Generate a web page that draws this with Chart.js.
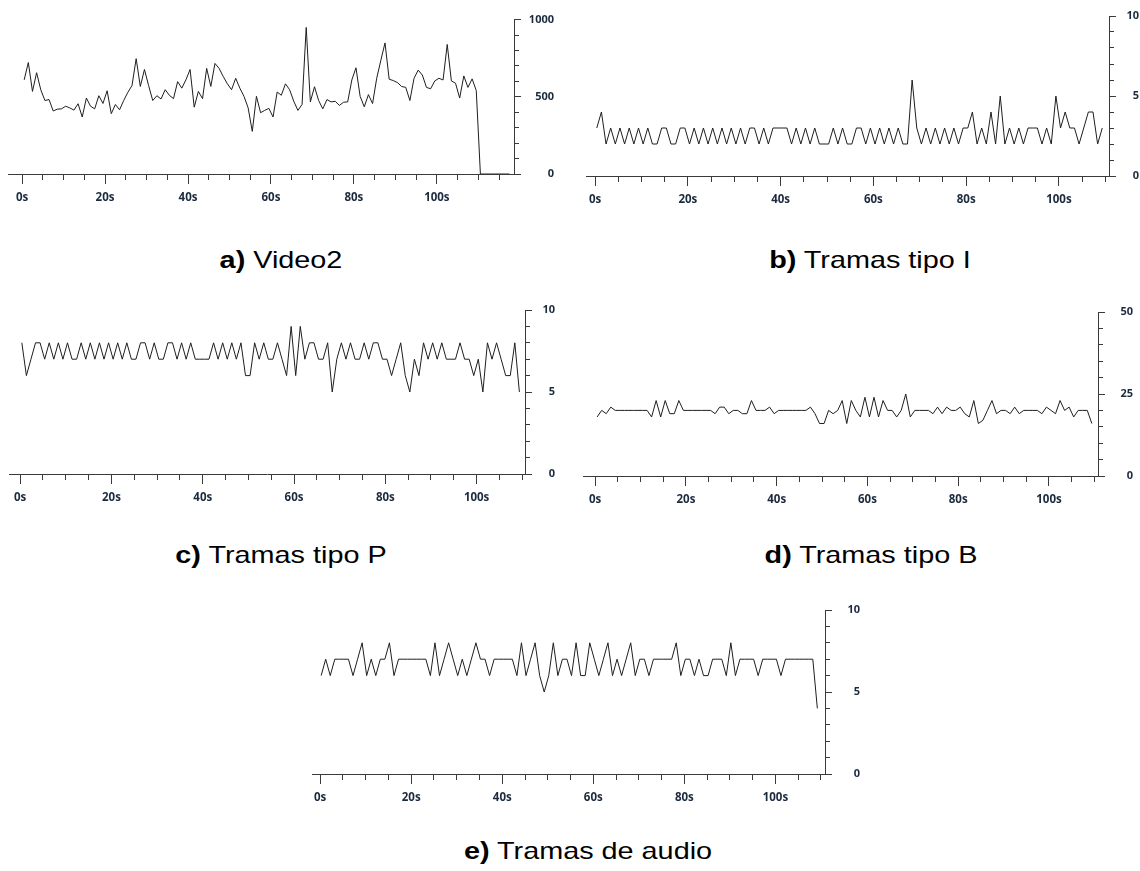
<!DOCTYPE html>
<html>
<head>
<meta charset="utf-8">
<script src="https://cdn.jsdelivr.net/npm/chart.js@4.4.0/dist/chart.umd.min.js"></script>
<style>
  body { margin: 0; background: #fff; }
  #pagina { position: relative; width: 1140px; height: 871px; overflow: hidden; background: #fff; }
  canvas { position: absolute; }
  .titulo { position: absolute; width: 400px; text-align: center; font-family: "Liberation Sans", Arial, sans-serif; font-size: 24px; line-height: 26px; color: #000; transform: scaleX(1.2); transform-origin: 50% 50%; }
</style>
</head>
<body>
<div id="pagina">
  <canvas id="gA" style="left:8px;top:7px" width="546" height="197"></canvas>
  <canvas id="gB" style="left:582px;top:6px" width="557" height="200"></canvas>
  <canvas id="gC" style="left:7px;top:300px" width="548" height="204"></canvas>
  <canvas id="gD" style="left:582px;top:302px" width="551" height="204"></canvas>
  <canvas id="gE" style="left:307px;top:600px" width="553" height="204"></canvas>

  <div class="titulo" style="left:81px;top:247px"><b>a)</b> Video2</div>
  <div class="titulo" style="left:670px;top:247px"><b>b)</b> Tramas tipo I</div>
  <div class="titulo" style="left:81px;top:542px"><b>c)</b> Tramas tipo P</div>
  <div class="titulo" style="left:671px;top:542px"><b>d)</b> Tramas tipo B</div>
  <div class="titulo" style="left:388px;top:838px"><b>e)</b> Tramas de audio</div>
</div>
<script>
// valores, una muestra por segundo
const video2 = [
  610, 722, 535, 656, 546, 476, 482, 408, 420, 422,
  439, 428, 414, 455, 369, 492, 439, 422, 507, 457,
  539, 391, 450, 416, 476, 529, 573, 747, 567, 677,
  573, 476, 507, 486, 546, 510, 488, 598, 556, 610,
  677, 433, 535, 488, 684, 567, 716, 684, 631, 584,
  546, 620, 556, 503, 428, 276, 503, 397, 412, 425,
  369, 531, 510, 584, 546, 471, 412, 450, 949, 467,
  565, 476, 422, 482, 467, 471, 444, 465, 467, 609,
  688, 503, 435, 514, 456, 620, 737, 849, 614, 605,
  592, 567, 561, 476, 620, 673, 641, 561, 552, 603,
  620, 609, 839, 603, 588, 492, 635, 561, 616, 541,
  0, 0, 0, 0, 0, 0, 0, 0
];
const tramasI = [
  3, 4, 2, 3, 2, 3, 2, 3, 2, 3,
  2, 3, 2, 2, 3, 3, 2, 2, 3, 3,
  2, 3, 2, 3, 2, 3, 2, 3, 2, 3,
  2, 3, 2, 3, 3, 2, 3, 2, 3, 3,
  3, 3, 2, 3, 2, 3, 2, 3, 2, 2,
  2, 3, 2, 3, 2, 2, 3, 3, 2, 3,
  2, 3, 2, 3, 2, 3, 2, 2, 6, 3,
  2, 3, 2, 3, 2, 3, 2, 3, 2, 3,
  3, 4, 2, 3, 2, 4, 2, 5, 2, 3,
  2, 3, 2, 3, 3, 3, 2, 3, 2, 5,
  3, 4, 3, 3, 2, 3, 4, 4, 2, 3
];
const tramasP = [
  8, 6, 7, 8, 8, 7, 8, 7, 8, 7,
  8, 7, 7, 8, 7, 8, 7, 8, 7, 8,
  7, 8, 7, 8, 7, 7, 8, 8, 7, 8,
  7, 7, 8, 8, 7, 8, 7, 8, 7, 7,
  7, 7, 8, 7, 8, 7, 8, 7, 8, 6,
  6, 8, 7, 8, 7, 7, 8, 7, 6, 9,
  6, 9, 7, 8, 8, 7, 7, 8, 5, 7,
  8, 7, 8, 7, 7, 8, 7, 8, 8, 7,
  7, 6, 7, 8, 6, 5, 7, 6, 8, 7,
  8, 7, 8, 7, 7, 7, 8, 7, 7, 6,
  7, 5, 8, 7, 8, 7, 6, 6, 8, 5
];
const tramasB = [
  18, 20, 19, 21, 20, 20, 20, 20, 20, 20,
  20, 20, 18, 23, 18, 23, 19, 19, 23, 20,
  20, 20, 20, 20, 20, 20, 19, 21, 21, 19,
  20, 20, 19, 19, 23, 20, 20, 20, 21, 19,
  20, 20, 20, 20, 20, 20, 20, 21, 19, 16,
  16, 20, 19, 20, 23, 16, 23, 20, 18, 24,
  18, 24, 18, 23, 20, 20, 18, 20, 25, 18,
  20, 20, 20, 20, 19, 21, 19, 21, 20, 20,
  21, 19, 18, 23, 16, 17, 20, 23, 19, 20,
  20, 19, 21, 19, 20, 20, 20, 20, 19, 21,
  20, 19, 23, 20, 21, 18, 20, 20, 20, 16
];
const tramasAudio = [
  6, 7, 6, 7, 7, 7, 7, 6, 7, 8,
  6, 7, 6, 7, 7, 8, 6, 7, 7, 7,
  7, 7, 7, 7, 6, 8, 6, 7, 8, 7,
  6, 7, 6, 7, 8, 7, 7, 6, 7, 7,
  7, 7, 7, 6, 8, 6, 7, 8, 6, 5,
  6, 8, 6, 7, 7, 6, 8, 6, 6, 8,
  7, 6, 7, 8, 6, 7, 6, 7, 8, 6,
  7, 7, 6, 7, 7, 7, 7, 7, 8, 6,
  7, 7, 6, 7, 6, 6, 7, 7, 7, 6,
  8, 6, 7, 7, 7, 7, 6, 7, 7, 7,
  7, 6, 7, 7, 7, 7, 7, 7, 7, 4
];

const colorEje = '#3a3a3a';
const colorTexto = '#1c2a3e';

function dibujar(id, valores, cfg) {
  const puntos = valores.map((v, i) => ({ x: cfg.t0 + i, y: v }));
  const ctx = document.getElementById(id).getContext('2d');
  return new Chart(ctx, {
    type: 'line',
    data: {
      datasets: [{
        data: puntos,
        borderColor: '#1e1e1e',
        borderWidth: 1,
        pointRadius: 0,
        tension: 0,
        fill: false
      }]
    },
    options: {
      responsive: false,
      animation: false,
      layout: { padding: { top: 10, left: 0, right: 0, bottom: 0 } },
      plugins: { legend: { display: false }, tooltip: { enabled: false } },
      scales: {
        x: {
          type: 'linear',
          position: 'bottom',
          min: cfg.xMin,
          max: cfg.xMax,
          afterFit: (s) => { s.height = 30; },
          border: { display: true, color: colorEje, width: 1 },
          grid: {
            drawOnChartArea: false,
            drawTicks: true,
            tickLength: 10,
            tickColor: colorEje,
            tickWidth: 1,
            // marcas cortas cada 5 s, largas cada 20 s
            tickBorderDash: (c) => (c.tick && c.tick.value % 20 === 0) ? [] : [5, 100]
          },
          ticks: {
            stepSize: 5,
            includeBounds: false,
            autoSkip: false,
            maxRotation: 0,
            minRotation: 0,
            padding: 7,
            color: colorTexto,
            font: { family: 'Open Sans', size: 11.5, weight: '700' },
            callback: (v) => (v % 20 === 0 ? v + 's' : '')
          }
        },
        y: {
          type: 'linear',
          position: 'right',
          min: 0,
          max: cfg.yMax,
          afterFit: (s) => { s.width = cfg.yw; },
          border: { display: true, color: colorEje, width: 1 },
          grid: {
            drawOnChartArea: false,
            drawTicks: true,
            tickLength: 7,
            tickColor: colorEje,
            tickWidth: 1,
            tickBorderDash: (c) => (c.tick && c.tick.value % (cfg.yMax / 2) === 0) ? [] : [4, 100]
          },
          ticks: {
            stepSize: cfg.yMax / 10,
            autoSkip: false,
            crossAlign: 'far',
            padding: cfg.yPad,
            color: colorTexto,
            font: { family: 'Open Sans', size: 11, weight: '700' },
            callback: (v) => (v % (cfg.yMax / 2) === 0 ? String(v) : '')
          }
        }
      }
    }
  });
}

dibujar('gA', video2, { t0: 0.5, xMin: -3.4, xMax: 118.6, yMax: 1000, yw: 40, yPad: 6 });
dibujar('gB', tramasI, { t0: 0.35, xMin: -1.85, xMax: 110.8, yMax: 10, yw: 30, yPad: 0 });
dibujar('gC', tramasP, { t0: 0.37, xMin: -2.4, xMax: 110.6, yMax: 10, yw: 30, yPad: 0 });
dibujar('gD', tramasB, { t0: 0.44, xMin: -2.6, xMax: 110.8, yMax: 50, yw: 35, yPad: 2 });
dibujar('gE', tramasAudio, { t0: 0.22, xMin: -1.7, xMax: 110.9, yMax: 10, yw: 35, yPad: 2 });
</script>
</body>
</html>
